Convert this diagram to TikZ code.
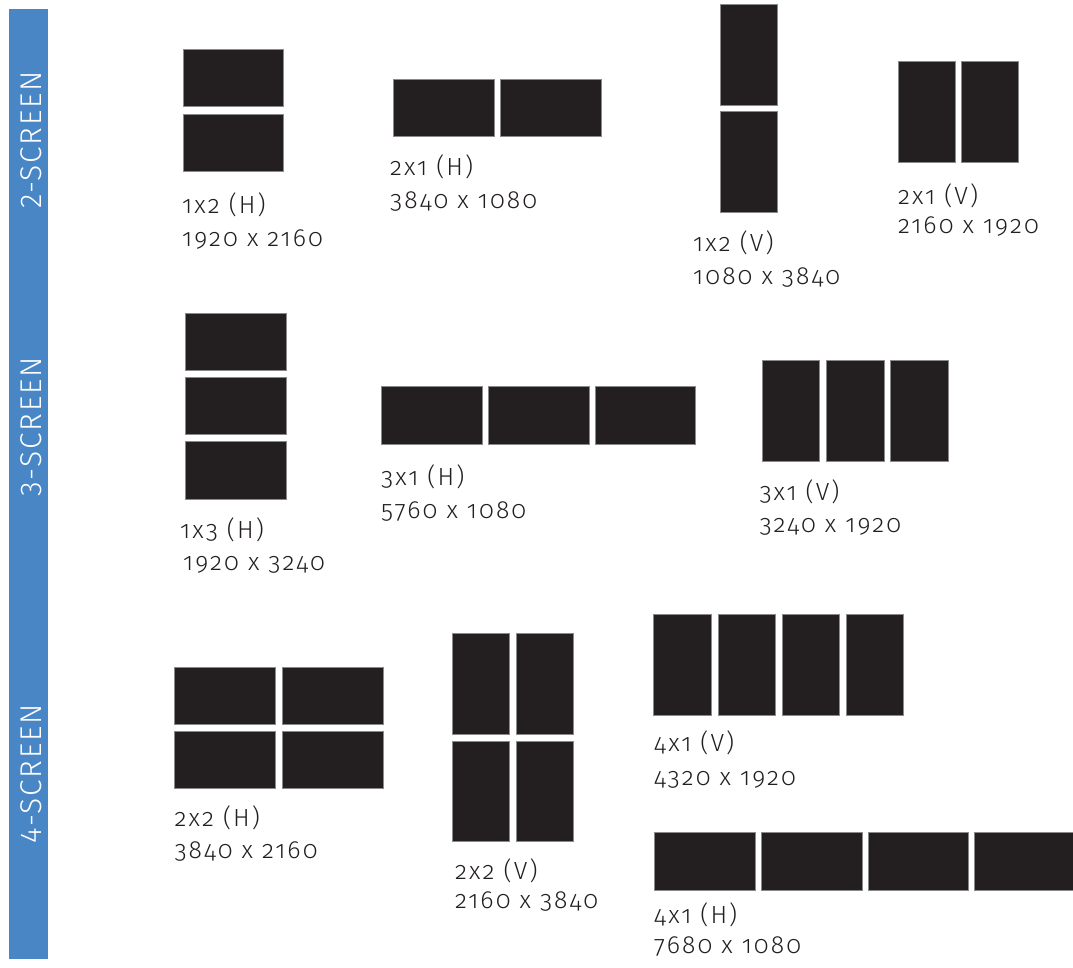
\documentclass[tikz,border=0pt]{standalone}
\usepackage{fontspec}
\setmainfont{Fira Sans Light}[Numbers=OldStyle]
\newfontfamily\lblfont{Fira Sans Light}[Numbers=OldStyle, LetterSpace=8.5]
\newfontfamily\barfont{Fira Sans Light}[LetterSpace=6]
\definecolor{barblue}{HTML}{4886C6}
\definecolor{scrfill}{HTML}{231F20}
\definecolor{scredge}{HTML}{8A8A8A}
\definecolor{txt}{HTML}{231F20}
\tikzset{
  hscr/.style={draw=scredge, fill=scrfill, line width=0.7pt, inner sep=0pt, anchor=north west, minimum width=100.6pt, minimum height=57.2pt},
  vscr/.style={draw=scredge, fill=scrfill, line width=0.7pt, inner sep=0pt, anchor=north west, minimum width=57.2pt, minimum height=100.6pt},
  lbl/.style={anchor=base west, inner sep=0pt, text=txt, font=\lblfont\fontsize{24.8}{29}\selectfont},
  barlbl/.style={rotate=90, anchor=center, inner sep=0pt, text=white, font=\barfont\fontsize{30}{34}\selectfont}
}
\begin{document}
\begin{tikzpicture}[x=1pt, y=-1pt]
\useasboundingbox (0,0) rectangle (1073,967);
\fill[white] (0,0) rectangle (1073,967);
% side bar
\node[fill=barblue, inner sep=0pt, anchor=north west, minimum width=39pt, minimum height=950pt] (bar) at (9,9) {};
\node[barlbl] (b2) at (31,140) {2-SCREEN};
\node[barlbl] (b3) at (31,427) {3-SCREEN};
\node[barlbl] (b4) at (31,774) {4-SCREEN};
% 1x2 (H)
\node[hscr] (a1) at (182.7,49) {};
\node[hscr] (a2) at (182.7,113.5) {};
\node[lbl] (la1) at (182,213.3) {1x2 (H)};
\node[lbl] (la2) at (182,246.7) {1920 x 2160};
% 2x1 (H)
\node[hscr] (b1s) at (393.3,78.7) {};
\node[hscr] (b2s) at (500,78.7) {};
\node[lbl] (lb1) at (390,175.7) {2x1 (H)};
\node[lbl] (lb2) at (390,208) {3840 x 1080};
% 1x2 (V)
\node[vscr] (c1) at (720,4) {};
\node[vscr] (c2) at (720,111.2) {};
\node[lbl] (lc1) at (693,251.7) {1x2 (V)};
\node[lbl] (lc2) at (693,284.5) {1080 x 3840};
% 2x1 (V)
\node[vscr] (d1) at (897.7,61.3) {};
\node[vscr] (d2) at (961,61.3) {};
\node[lbl] (ld1) at (898,204) {2x1 (V)};
\node[lbl] (ld2) at (898,233) {2160 x 1920};
% 1x3 (H)
\node[hscr] (e1) at (185,313) {};
\node[hscr] (e2) at (185,377) {};
\node[hscr] (e3) at (185,441.3) {};
\node[lbl] (le1) at (180,538) {1x3 (H)};
\node[lbl] (le2) at (183,570) {1920 x 3240};
% 3x1 (H)
\node[hscr] (f1) at (381,386.3) {};
\node[hscr] (f2) at (488,386.3) {};
\node[hscr] (f3) at (594.7,386.3) {};
\node[lbl] (lf1) at (381,485) {3x1 (H)};
\node[lbl] (lf2) at (381,518) {5760 x 1080};
% 3x1 (V)
\node[vscr] (g1) at (762,360.3) {};
\node[vscr] (g2) at (826.3,360.3) {};
\node[vscr] (g3) at (890.3,360.3) {};
\node[lbl] (lg1) at (759.3,500) {3x1 (V)};
\node[lbl] (lg2) at (759.3,532) {3240 x 1920};
% 2x2 (H)
\node[hscr] (h1) at (174.3,667) {};
\node[hscr] (h2) at (282.3,667) {};
\node[hscr] (h3) at (174.3,731) {};
\node[hscr] (h4) at (282.3,731) {};
\node[lbl] (lh1) at (174.3,826.7) {2x2 (H)};
\node[lbl] (lh2) at (174.3,858) {3840 x 2160};
% 2x2 (V)
\node[vscr] (i1) at (452,633.3) {};
\node[vscr] (i2) at (516,633.3) {};
\node[vscr] (i3) at (452,740.7) {};
\node[vscr] (i4) at (516,740.7) {};
\node[lbl] (li1) at (455,879.3) {2x2 (V)};
\node[lbl] (li2) at (455,908.3) {2160 x 3840};
% 4x1 (V)
\node[vscr] (j1) at (653.3,614.3) {};
\node[vscr] (j2) at (717.7,614.3) {};
\node[vscr] (j3) at (782,614.3) {};
\node[vscr] (j4) at (846,614.3) {};
\node[lbl] (lj1) at (654,751.7) {4x1 (V)};
\node[lbl] (lj2) at (654,785) {4320 x 1920};
% 4x1 (H)
\node[hscr] (k1) at (654.3,832.3) {};
\node[hscr] (k2) at (761,832.3) {};
\node[hscr] (k3) at (867.7,832.3) {};
\node[hscr] (k4) at (974,832.3) {};
\node[lbl] (lk1) at (654,923.3) {4x1 (H)};
\node[lbl] (lk2) at (654,953) {7680 x 1080};
\end{tikzpicture}
\end{document}
